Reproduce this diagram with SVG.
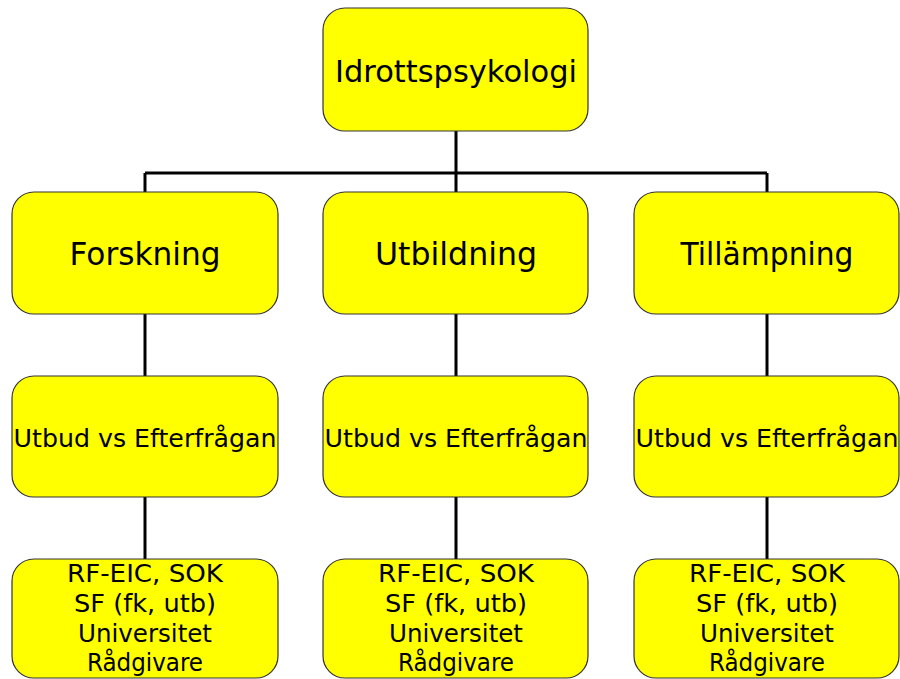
<svg xmlns="http://www.w3.org/2000/svg" width="900" height="679" viewBox="0 0 900 679">
<style>
.box{fill:#FFFF00;stroke:#333;stroke-width:1.2}
.t{font-family:"DejaVu Sans","Liberation Sans",sans-serif;fill:#000;text-anchor:middle}
.conn{stroke:#000;stroke-width:3;fill:none}
</style>
<rect width="900" height="679" fill="#fff"/>
<g id="connectors">
<path class="conn" d="M456 131V173M145 173H767M145 173V192M456 173V192M767 173V192"/>
<path class="conn" d="M145 314V376M456 314V376M767 314V376"/>
<path class="conn" d="M145 497V559M456 497V559M767 497V559"/>
</g>
<g id="n-root">
<rect class="box" x="323" y="8" width="265" height="123" rx="22"/>
<text class="t" x="456" y="82" font-size="30" textLength="242" lengthAdjust="spacingAndGlyphs">Idrottspsykologi</text>
</g>
<g id="n-forskning">
<rect class="box" x="12" y="192" width="266" height="122" rx="22"/>
<text class="t" x="145" y="265" font-size="32" textLength="151" lengthAdjust="spacingAndGlyphs">Forskning</text>
</g>
<g id="n-utbildning">
<rect class="box" x="323" y="192" width="265" height="122" rx="22"/>
<text class="t" x="456" y="265" font-size="32" textLength="162" lengthAdjust="spacingAndGlyphs">Utbildning</text>
</g>
<g id="n-tillampning">
<rect class="box" x="634" y="192" width="265" height="122" rx="22"/>
<text class="t" x="767" y="265" font-size="32" textLength="173" lengthAdjust="spacingAndGlyphs">Tillämpning</text>
</g>
<g id="n-ue1">
<rect class="box" x="12" y="376" width="266" height="121" rx="22"/>
<text class="t" x="145" y="447" font-size="25" textLength="263" lengthAdjust="spacingAndGlyphs">Utbud vs Efterfrågan</text>
</g>
<g id="n-ue2">
<rect class="box" x="323" y="376" width="265" height="121" rx="22"/>
<text class="t" x="456" y="447" font-size="25" textLength="263" lengthAdjust="spacingAndGlyphs">Utbud vs Efterfrågan</text>
</g>
<g id="n-ue3">
<rect class="box" x="634" y="376" width="265" height="121" rx="22"/>
<text class="t" x="767" y="447" font-size="25" textLength="263" lengthAdjust="spacingAndGlyphs">Utbud vs Efterfrågan</text>
</g>
<g id="n-org1">
<rect class="box" x="12" y="559" width="266" height="119" rx="22"/>
<text class="t" x="145" y="582" font-size="24" textLength="156" lengthAdjust="spacingAndGlyphs">RF-EIC, SOK</text>
<text class="t" x="145" y="612" font-size="24" textLength="142" lengthAdjust="spacingAndGlyphs">SF (fk, utb)</text>
<text class="t" x="145" y="642" font-size="24" textLength="134" lengthAdjust="spacingAndGlyphs">Universitet</text>
<text class="t" x="145" y="671" font-size="24" textLength="116" lengthAdjust="spacingAndGlyphs">Rådgivare</text>
</g>
<g id="n-org2">
<rect class="box" x="323" y="559" width="265" height="119" rx="22"/>
<text class="t" x="456" y="582" font-size="24" textLength="156" lengthAdjust="spacingAndGlyphs">RF-EIC, SOK</text>
<text class="t" x="456" y="612" font-size="24" textLength="142" lengthAdjust="spacingAndGlyphs">SF (fk, utb)</text>
<text class="t" x="456" y="642" font-size="24" textLength="134" lengthAdjust="spacingAndGlyphs">Universitet</text>
<text class="t" x="456" y="671" font-size="24" textLength="116" lengthAdjust="spacingAndGlyphs">Rådgivare</text>
</g>
<g id="n-org3">
<rect class="box" x="634" y="559" width="265" height="119" rx="22"/>
<text class="t" x="767" y="582" font-size="24" textLength="156" lengthAdjust="spacingAndGlyphs">RF-EIC, SOK</text>
<text class="t" x="767" y="612" font-size="24" textLength="142" lengthAdjust="spacingAndGlyphs">SF (fk, utb)</text>
<text class="t" x="767" y="642" font-size="24" textLength="134" lengthAdjust="spacingAndGlyphs">Universitet</text>
<text class="t" x="767" y="671" font-size="24" textLength="116" lengthAdjust="spacingAndGlyphs">Rådgivare</text>
</g>
</svg>
